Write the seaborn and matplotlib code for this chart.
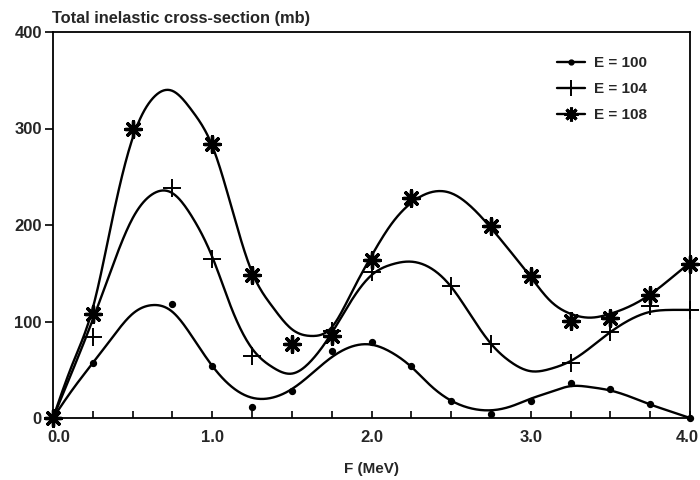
import numpy as np
import pandas as pd
import matplotlib
matplotlib.use("Agg")
import matplotlib.pyplot as plt
import matplotlib.transforms as mtransforms
import seaborn as sns
from matplotlib.lines import Line2D
from matplotlib.ticker import MultipleLocator, FixedLocator

# ---------------- data ----------------
labels = ["E = 100", "E = 104", "E = 108"]

# measured points (F in MeV, cross-section in mb); NaN = no marker drawn
pt_x = [0.0, 0.25, 0.5, 0.75, 1.0, 1.25, 1.5, 1.75, 2.0,
        2.25, 2.5, 2.75, 3.0, 3.25, 3.5, 3.75, 4.0]
pts_100 = [0, 57, np.nan, 118, 54, 11, 28, 69, 79, 54, 18, 4, 18, 36, 30, 14, 0]
pts_104 = [0, 84, np.nan, 238, 165, 64, np.nan, 90, 151, np.nan, 137, 77, np.nan, 57, 89, 116, 112]
pts_108 = [0, 108, 299, np.nan, 284, 148, 77, 85, 164, 228, np.nan, 199, 147, 101, 104, 127, 160]

# fitted curves
fit_x = [0.0, 0.125, 0.25, 0.375, 0.5, 0.625, 0.75, 0.875, 1.0, 1.125, 1.25, 1.375,
         1.5, 1.625, 1.75, 1.875, 2.0, 2.125, 2.25, 2.375, 2.5, 2.625, 2.75, 2.875,
         3.0, 3.125, 3.25, 3.375, 3.5, 3.625, 3.75, 3.875, 4.0]
fit_100 = [0, 30, 57, 84, 108, 117, 110, 84, 54, 32, 21, 21, 30, 46, 63, 74, 76,
           68, 53, 33, 18, 10, 8, 12, 20, 27, 33, 32, 28.5, 22, 14, 7, 0]
fit_104 = [0, 50, 102, 158, 207, 232, 233, 208, 167, 112, 72, 53, 46, 60, 88, 122, 148,
           159, 162, 155, 136, 106, 77, 58, 48.5, 51, 59, 73, 89, 102, 110, 112, 112]
fit_108 = [0, 57, 114, 208, 290, 331, 339, 318, 282, 216, 151, 116, 92, 85, 94, 130, 168,
           201, 223, 234, 233, 219, 197, 172, 146, 121, 108, 104, 108, 116, 128, 144, 161]

x_tick_labels = ["0.0", "1.0", "2.0", "3.0", "4.0"]
y_ticks = [0, 100, 200, 300, 400]


def natural_spline(x, y, xs):
    x = np.asarray(x, float)
    y = np.asarray(y, float)
    n = len(x)
    h = np.diff(x)
    A = np.zeros((n, n))
    b = np.zeros(n)
    A[0, 0] = 1
    A[-1, -1] = 1
    for i in range(1, n - 1):
        A[i, i - 1] = h[i - 1]
        A[i, i] = 2 * (h[i - 1] + h[i])
        A[i, i + 1] = h[i]
        b[i] = 6 * ((y[i + 1] - y[i]) / h[i] - (y[i] - y[i - 1]) / h[i - 1])
    M = np.linalg.solve(A, b)
    idx = np.clip(np.searchsorted(x, xs) - 1, 0, n - 2)
    x0, x1 = x[idx], x[idx + 1]
    hh = x1 - x0
    t0 = x1 - xs
    t1 = xs - x0
    return (M[idx] * t0 ** 3 / (6 * hh) + M[idx + 1] * t1 ** 3 / (6 * hh)
            + (y[idx] / hh - M[idx] * hh / 6) * t0
            + (y[idx + 1] / hh - M[idx + 1] * hh / 6) * t1)


# ---------------- style ----------------
sns.set_theme(style="white")
plt.rcParams["font.family"] = ["Liberation Sans", "DejaVu Sans"]
plt.rcParams["font.weight"] = "bold"

fig = plt.figure(figsize=(7, 4.8), dpi=100)
ax = fig.add_axes([53 / 700, 62 / 480, 637 / 700, 386 / 480])

xs = np.linspace(fit_x[0], fit_x[-1], 600)
series = [
    (fit_100, pts_100, "o", 18, 1.0),
    (fit_104, pts_104, "+", 160, 1.4),
    (fit_108, pts_108, (8, 2, 0), 130, 2.4),
]
for (fit, pts, mk, s, mlw), lab in zip(series, labels):
    dfc = pd.DataFrame({"F": xs, "sigma": natural_spline(fit_x, fit, xs)})
    sns.lineplot(data=dfc, x="F", y="sigma", ax=ax, color="black", lw=1.7,
                 estimator=None, sort=False, legend=False)
    dfp = pd.DataFrame({"F": pt_x, "sigma": pts}).dropna()
    sns.scatterplot(data=dfp, x="F", y="sigma", ax=ax, marker=mk, s=s,
                    color="black", edgecolor="black", linewidth=mlw,
                    clip_on=False, zorder=5, legend=False)

ax.set_xlim(0, 4)
ax.set_ylim(0, 400)
ax.xaxis.set_major_locator(FixedLocator([0, 1, 2, 3, 4]))
ax.set_xticklabels(x_tick_labels)
ax.xaxis.set_minor_locator(MultipleLocator(0.25))
ax.set_yticks(y_ticks)
ax.set_yticklabels([str(v) for v in y_ticks])

ax.tick_params(axis="x", which="both", direction="in", length=5, width=1.2,
               color="black", pad=9, labelsize=12, bottom=True)
ax.tick_params(axis="y", which="major", direction="out", length=6, width=1.2,
               color="black", pad=2, labelsize=12, left=True)
for sp in ax.spines.values():
    sp.set_color("black")
    sp.set_linewidth(1.3)

# first x label sits slightly right of its tick, last slightly left
xl = ax.get_xticklabels()
xl[0].set_transform(xl[0].get_transform() +
                    mtransforms.ScaledTranslation(6 / 100, 0, fig.dpi_scale_trans))
xl[-1].set_transform(xl[-1].get_transform() +
                     mtransforms.ScaledTranslation(-3 / 100, 0, fig.dpi_scale_trans))

ax.set_xlabel("F (MeV)", fontsize=11, fontweight="bold", labelpad=12)
ax.set_ylabel("")
fig.text(52 / 700, 1 - 23 / 480, "Total inelastic cross-section (mb)",
         ha="left", va="baseline", fontsize=11.8, fontweight="bold")

handles = [
    Line2D([0], [0], color="black", lw=1.7, marker="o", ms=3.5),
    Line2D([0], [0], color="black", lw=1.7, marker="+", ms=12, mew=1.4),
    Line2D([0], [0], color="black", lw=1.7, marker=(8, 2, 0), ms=10, mew=2.2),
]
fig.legend(handles, labels, loc="upper left", bbox_to_anchor=(557 / 700, 1 - 56 / 480),
           frameon=False, borderpad=0, borderaxespad=0, handlelength=1.85,
           handletextpad=0.6, labelspacing=0.8,
           prop={"weight": "bold", "size": 11})

fig.savefig("out.png", dpi=100)
